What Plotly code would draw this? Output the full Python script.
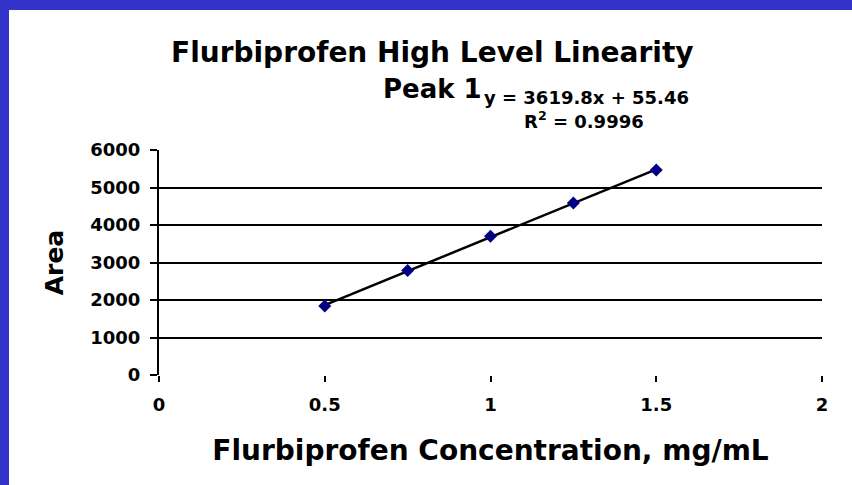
import plotly.graph_objects as go

# ── Data ───────────────────────────────────────────────────────────────────────

conc = [0.5, 0.75, 1.0, 1.25, 1.5]          # mg/mL
area = [1840, 2790, 3700, 4590, 5470]

slope, intercept, r2 = 3619.8, 55.46, 0.9996
fit_x = [min(conc), max(conc)]
fit_y = [slope * x + intercept for x in fit_x]

x_ticks = [0, 0.5, 1, 1.5, 2]
x_tick_text = ["0", "0.5", "1", "1.5", "2"]
y_ticks = [0, 1000, 2000, 3000, 4000, 5000, 6000]
grid_ticks = [1000, 2000, 3000, 4000, 5000, 6000]

# ── Layout helpers (pixel -> paper) ────────────────────────────────────────────

W, H = 852, 485
L, R, T, B = 159, 30, 150, 110
PW, PH = W - L - R, H - T - B

def px(x):
    return (x - L) / PW

def py(y):
    return (H - B - y) / PH

BLUE = "#3333CC"
HEAVY = dict(family="DejaVu Sans, Arial, sans-serif", color="black", weight="bold")
TICKFONT = dict(family="DejaVu Sans", size=18, color="black", weight="bold")

# ── Figure ─────────────────────────────────────────────────────────────────────

fig = go.Figure()

fig.add_trace(go.Scatter(
    x=fit_x, y=fit_y, mode="lines",
    line=dict(color="black", width=2.5),
    hoverinfo="skip", showlegend=False,
))
fig.add_trace(go.Scatter(
    x=conc, y=area, mode="markers",
    marker=dict(symbol="diamond", size=10, color="#000080"),
    showlegend=False,
))

fig.update_layout(
    xaxis=dict(
        range=[0, 2], tickvals=x_ticks, ticktext=x_tick_text,
        showgrid=False, zeroline=False, showline=False,
        ticks="outside", ticklen=6, tickwidth=1.5, tickcolor="black",
        tickfont=TICKFONT, ticklabelstandoff=7,
        title=dict(text="Flurbiprofen Concentration, mg/mL",
                   font=dict(size=28, **HEAVY), standoff=26),
    ),
    yaxis=dict(
        range=[0, 6000], tickvals=y_ticks,
        showgrid=False, zeroline=False,
        showline=True, linecolor="black", linewidth=2,
        ticks="outside", ticklen=7, tickwidth=1.5, tickcolor="black",
        tickfont=TICKFONT, ticklabelstandoff=6,
        title=dict(text="Area", font=dict(size=25, **HEAVY), standoff=20),
    ),
    # gridlines only (no line at zero, as in the original)
    yaxis2=dict(
        range=[0, 6000], tickvals=grid_ticks, overlaying="y",
        showgrid=True, gridcolor="black", gridwidth=1.5,
        showticklabels=False, zeroline=False, showline=False, ticks="",
    ),
)
fig.add_trace(go.Scatter(x=[], y=[], yaxis="y2", showlegend=False))

# blue frame strips (top and left)
fig.add_shape(type="rect", xref="paper", yref="paper", layer="below",
              x0=px(0), x1=px(9), y0=py(H), y1=py(0),
              fillcolor=BLUE, line_width=0)
fig.add_shape(type="rect", xref="paper", yref="paper", layer="below",
              x0=px(0), x1=px(W), y0=py(10), y1=py(0),
              fillcolor=BLUE, line_width=0)

fig.add_annotation(text="Flurbiprofen High Level Linearity",
                   xref="paper", yref="paper", x=px(432), y=py(52),
                   xanchor="center", yanchor="middle", showarrow=False,
                   font=dict(size=28, **HEAVY))
fig.add_annotation(text="Peak 1",
                   xref="paper", yref="paper", x=px(484), y=py(89),
                   xanchor="right", yanchor="middle", showarrow=False,
                   font=dict(size=26, **HEAVY))
fig.add_annotation(text=f"y = {slope}x + {intercept}",
                   xref="paper", yref="paper", x=px(586), y=py(97),
                   xanchor="center", yanchor="middle", showarrow=False,
                   font=dict(family="DejaVu Sans", size=18, color="black", weight="bold"))
fig.add_annotation(text=f"R<sup>2</sup> = {r2}",
                   xref="paper", yref="paper", x=px(584), y=py(120),
                   xanchor="center", yanchor="middle", showarrow=False,
                   font=dict(family="DejaVu Sans", size=18, color="black", weight="bold"))

fig.update_layout(
    width=W, height=H,
    margin=dict(l=L, r=R, t=T, b=B),
    paper_bgcolor="white", plot_bgcolor="white",
    showlegend=False,
)

# remove the default page margin so the figure sits at the window corner
fig.write_html("out.html", config={"displayModeBar": False},
               post_script="document.body.style.margin='0';")
